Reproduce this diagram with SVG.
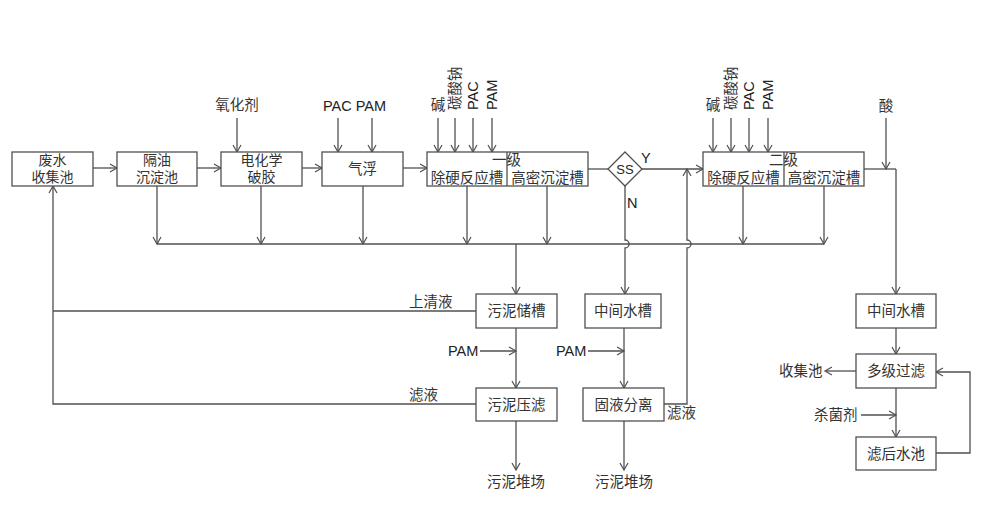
<svg xmlns="http://www.w3.org/2000/svg" width="985" height="508" viewBox="0 0 985 508">
<style>
.box{fill:#fff;stroke:#505050;stroke-width:1.3}
.ln{fill:none;stroke:#505050;stroke-width:1.3}
.a{marker-end:url(#ah)}
.cn{font-family:"Noto Sans CJK SC","Liberation Serif",serif;font-size:14.5px;fill:#333}
.c2{font-size:14px}
.en{font-family:"Liberation Sans",Arial,sans-serif;font-size:14.5px;fill:#222}
.m{text-anchor:middle}
</style>
<defs>
<marker id="ah" markerUnits="userSpaceOnUse" markerWidth="12" markerHeight="12" refX="8" refY="5" orient="auto">
<path d="M1,1 L8,5 L1,9" fill="none" stroke="#505050" stroke-width="1.2"/>
</marker>
</defs>
<rect width="985" height="508" fill="#fff"/>

<g id="connectors">
<path class="ln a" d="M93,168 H117"/>
<path class="ln a" d="M197,168 H221"/>
<path class="ln a" d="M302,168 H322"/>
<path class="ln a" d="M403,168 H427"/>
<path class="ln a" d="M237,118 V152"/>
<path class="ln a" d="M338,118 V152"/>
<path class="ln a" d="M372,118 V152"/>
<path class="ln a" d="M438,118 V152"/>
<path class="ln a" d="M455,118 V152"/>
<path class="ln a" d="M473,118 V152"/>
<path class="ln a" d="M492,118 V152"/>
<path class="ln a" d="M713,118 V152"/>
<path class="ln a" d="M731,118 V152"/>
<path class="ln a" d="M749,118 V152"/>
<path class="ln a" d="M768,118 V152"/>
<path class="ln a" d="M886,118 V169"/>
<path class="ln" d="M588,169 H608"/>
<path class="ln a" d="M642,169 H703"/>
<path class="ln" d="M864,169 H896"/>
<path class="ln a" d="M896,169 V294"/>
<path class="ln" d="M157,244 H824"/>
<path class="ln a" d="M157,186 V244"/>
<path class="ln a" d="M261,186 V244"/>
<path class="ln a" d="M363,186 V244"/>
<path class="ln a" d="M467,186 V244"/>
<path class="ln a" d="M547,186 V244"/>
<path class="ln a" d="M743,186 V244"/>
<path class="ln a" d="M824,186 V244"/>
<path class="ln a" d="M516,244 V294"/>
<path class="ln a" d="M625,186 V240 A4,4 0 0 1 625,248 V294"/>
<path class="ln a" d="M664,404 H687 V248 A4,4 0 0 0 687,240 V169"/>
<path class="ln a" d="M476,404 H53 V186"/>
<path class="ln" d="M476,311 H53"/>
<path class="ln a" d="M480,351 H516"/>
<path class="ln a" d="M588,351 H624"/>
<path class="ln a" d="M516,328 V388"/>
<path class="ln a" d="M624,328 V388"/>
<path class="ln a" d="M516,421 V470"/>
<path class="ln a" d="M624,421 V470"/>
<path class="ln a" d="M896,328 V354"/>
<path class="ln a" d="M856,371 H825"/>
<path class="ln a" d="M896,388 V437"/>
<path class="ln a" d="M861,415 H896"/>
<path class="ln a" d="M936,453 H970 V372 H936"/>
</g>

<g id="n1"><rect class="box" x="12" y="152" width="81" height="34"/><text class="cn c2 m" x="52.5" y="165">废水</text><text class="cn c2 m" x="52.5" y="182">收集池</text></g>
<g id="n2"><rect class="box" x="117" y="152" width="80" height="34"/><text class="cn c2 m" x="157" y="165">隔油</text><text class="cn c2 m" x="157" y="182">沉淀池</text></g>
<g id="n3"><rect class="box" x="221" y="152" width="81" height="34"/><text class="cn c2 m" x="261.5" y="165">电化学</text><text class="cn c2 m" x="261.5" y="182">破胶</text></g>
<g id="n4"><rect class="box" x="322" y="152" width="81" height="34"/><text class="cn m" x="362.5" y="174">气浮</text></g>
<g id="n5"><rect class="box" x="427" y="152" width="161" height="34"/><path class="ln" d="M507,152 V186"/><text class="cn m" x="467" y="183">除硬反应槽</text><text class="cn m" x="547.5" y="183">高密沉淀槽</text><text class="cn" x="492" y="165">一级</text></g>
<g id="ss"><path class="box" d="M625,152 L642,169 L625,186 L608,169 Z"/><text class="en m" x="625" y="174" style="font-size:13px">SS</text></g>
<g id="n6"><rect class="box" x="703" y="152" width="161" height="34"/><path class="ln" d="M784,152 V186"/><text class="cn m" x="743.5" y="183">除硬反应槽</text><text class="cn m" x="824" y="183">高密沉淀槽</text><text class="cn" x="769" y="165">二级</text></g>
<g id="n7"><rect class="box" x="476" y="294" width="81" height="34"/><text class="cn m" x="516.5" y="316">污泥储槽</text></g>
<g id="n8"><rect class="box" x="585" y="294" width="76" height="34"/><text class="cn m" x="623" y="316">中间水槽</text></g>
<g id="n9"><rect class="box" x="476" y="388" width="81" height="33"/><text class="cn m" x="516.5" y="410">污泥压滤</text></g>
<g id="n10"><rect class="box" x="583" y="388" width="81" height="33"/><text class="cn m" x="623.5" y="410">固液分离</text></g>
<g id="n11"><rect class="box" x="856" y="294" width="80" height="34"/><text class="cn m" x="896" y="316">中间水槽</text></g>
<g id="n12"><rect class="box" x="856" y="354" width="80" height="34"/><text class="cn m" x="896" y="376">多级过滤</text></g>
<g id="n13"><rect class="box" x="856" y="437" width="80" height="33"/><text class="cn m" x="896" y="459">滤后水池</text></g>

<g id="labels">
<text class="cn m" x="237" y="110">氧化剂</text>
<text class="en" x="323" y="111">PAC PAM</text>
<text class="cn m" x="438" y="110">碱</text>
<text class="cn" transform="translate(460,110) rotate(-90)">碳酸钠</text>
<text class="en" transform="translate(478,110) rotate(-90)">PAC</text>
<text class="en" transform="translate(497,110) rotate(-90)">PAM</text>
<text class="cn m" x="713" y="110">碱</text>
<text class="cn" transform="translate(736,110) rotate(-90)">碳酸钠</text>
<text class="en" transform="translate(754,110) rotate(-90)">PAC</text>
<text class="en" transform="translate(773,110) rotate(-90)">PAM</text>
<text class="cn m" x="886" y="111">酸</text>
<text class="en" x="641" y="163">Y</text>
<text class="en" x="627" y="208">N</text>
<text class="cn" x="409" y="307">上清液</text>
<text class="cn" x="409" y="400">滤液</text>
<text class="en" x="448" y="356">PAM</text>
<text class="en" x="556" y="356">PAM</text>
<text class="cn" x="667" y="418">滤液</text>
<text class="cn m" x="516" y="487">污泥堆场</text>
<text class="cn m" x="624" y="487">污泥堆场</text>
<text class="cn" x="779" y="376">收集池</text>
<text class="cn" x="814" y="420">杀菌剂</text>
</g>
</svg>
